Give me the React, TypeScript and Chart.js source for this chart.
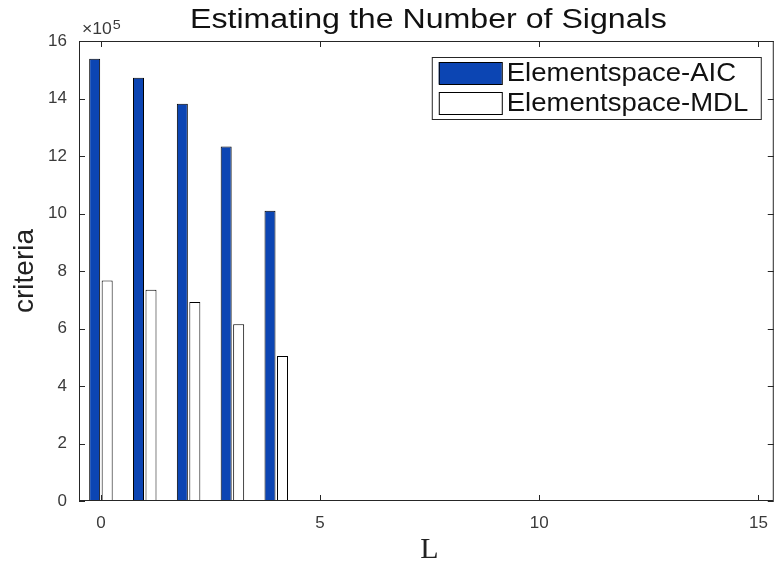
import React, { useEffect, useRef } from "react";
import { Chart, registerables } from "chart.js";

Chart.register(...registerables);

// Number of candidate signals L
const categories = [0, 1, 2, 3, 4];
// Criterion values per L
const aicValues = [1538000, 1472000, 1382000, 1233000, 1010000];
const mdlValues = [767000, 735000, 692000, 615000, 504000];
// Axis ticks
const xTickValues = [0, 5, 10, 15];
const yTickValues = [0, 200000, 400000, 600000, 800000, 1000000, 1200000, 1400000, 1600000];

const seriesNames = ["Elementspace-AIC", "Elementspace-MDL"];
const titleText = "Estimating the Number of Signals";
const yLabelText = "criteria";
const xLabelText = "L";

const AXIS_COLOR = "#262626";
const TEXT_COLOR = "#3a3a3a";
const SANS = "'Liberation Sans', Arial, sans-serif";
const SERIF = "'Liberation Serif', 'Times New Roman', serif";

function drawStretched(
  ctx: CanvasRenderingContext2D,
  text: string,
  x: number,
  y: number,
  sx: number,
  align: CanvasTextAlign
) {
  ctx.save();
  ctx.translate(x, y);
  ctx.scale(sx, 1);
  ctx.textAlign = align;
  ctx.fillText(text, 0, 0);
  ctx.restore();
}

// Box around the axes with inward ticks on all four sides, plus title, labels and legend
const decorPlugin = {
  id: "matlabDecor",
  afterDatasetsDraw(chart: any) {
    const ctx: CanvasRenderingContext2D = chart.ctx;
    const { left, right, top, bottom } = chart.chartArea;
    const xs = chart.scales.x;
    const ys = chart.scales.y;
    const tl = 6;

    ctx.save();
    ctx.strokeStyle = AXIS_COLOR;
    ctx.lineWidth = 1;
    ctx.strokeRect(left + 0.5, top + 0.5, right - left - 1, bottom - top - 1);

    ctx.beginPath();
    xTickValues.forEach((v) => {
      const px = Math.round(xs.getPixelForValue(v)) + 0.5;
      ctx.moveTo(px, bottom);
      ctx.lineTo(px, bottom - tl);
      ctx.moveTo(px, top);
      ctx.lineTo(px, top + tl);
    });
    yTickValues.forEach((v) => {
      const py = Math.round(ys.getPixelForValue(v)) + 0.5;
      ctx.moveTo(left, py);
      ctx.lineTo(left + tl, py);
      ctx.moveTo(right, py);
      ctx.lineTo(right - tl, py);
    });
    ctx.stroke();

    // exponent label
    ctx.fillStyle = TEXT_COLOR;
    ctx.textBaseline = "alphabetic";
    ctx.font = `16px ${SANS}`;
    ctx.textAlign = "left";
    drawStretched(ctx, "\u00d710", left + 3, top - 7, 1.1, "left");
    const w = ctx.measureText("\u00d710").width * 1.1;
    ctx.font = `13px ${SANS}`;
    drawStretched(ctx, "5", left + 3 + w + 1, top - 12, 1.1, "left");

    // title
    ctx.fillStyle = "#111";
    ctx.font = `27px ${SANS}`;
    drawStretched(ctx, titleText, (left + right) / 2 + 2, 28, 1.19, "center");

    // y label
    ctx.save();
    ctx.translate(33, (top + bottom) / 2);
    ctx.rotate(-Math.PI / 2);
    ctx.font = `28px ${SANS}`;
    ctx.fillStyle = "#222";
    ctx.textAlign = "center";
    ctx.fillText(yLabelText, 0, 0);
    ctx.restore();

    // x label
    ctx.font = `30px ${SERIF}`;
    ctx.fillStyle = "#222";
    ctx.textAlign = "center";
    ctx.fillText(xLabelText, (left + right) / 2 + 3, 558);

    // legend
    const lx0 = right - 342;
    const lx1 = right - 13;
    const ly0 = top + 16;
    const ly1 = top + 78;
    ctx.fillStyle = "#fff";
    ctx.fillRect(lx0, ly0, lx1 - lx0, ly1 - ly0);
    ctx.strokeStyle = AXIS_COLOR;
    ctx.strokeRect(lx0 + 0.5, ly0 + 0.5, lx1 - lx0, ly1 - ly0);
    chart.data.datasets.forEach((ds: any, i: number) => {
      const cy = ly0 + 16 + i * 30;
      ctx.fillStyle = ds.backgroundColor;
      ctx.fillRect(lx0 + 7, cy - 11, 63, 22);
      ctx.strokeStyle = "#000";
      ctx.strokeRect(lx0 + 7.5, cy - 10.5, 63, 22);
      ctx.fillStyle = "#111";
      ctx.font = `25px ${SANS}`;
      ctx.textBaseline = "middle";
      drawStretched(ctx, ds.label, lx0 + 75, cy + 1, 1.1, "left");
    });
    ctx.restore();
  },
};

export default function App() {
  const canvasRef = useRef<HTMLCanvasElement | null>(null);

  useEffect(() => {
    if (!canvasRef.current) return;
    const chart = new Chart(canvasRef.current, {
      type: "bar",
      data: {
        datasets: [
          {
            label: seriesNames[0],
            data: categories.map((c, i) => ({ x: c, y: aicValues[i] })),
            backgroundColor: "#0c45b3",
            borderColor: "#000",
            borderWidth: 1,
          },
          {
            label: seriesNames[1],
            data: categories.map((c, i) => ({ x: c, y: mdlValues[i] })),
            backgroundColor: "#ffffff",
            borderColor: "#000",
            borderWidth: 1,
          },
        ],
      },
      options: {
        animation: false,
        responsive: false,
        maintainAspectRatio: false,
        layout: { padding: { top: 41, right: 5, left: 0, bottom: 0 } },
        datasets: { bar: { categoryPercentage: 0.57, barPercentage: 0.88 } },
        plugins: {
          legend: { display: false },
          title: { display: false },
          tooltip: { enabled: false },
        },
        scales: {
          x: {
            type: "linear",
            min: -0.5,
            max: 15.35,
            offset: false,
            grid: { display: false, drawTicks: false },
            border: { display: false },
            afterBuildTicks: (scale: any) => {
              scale.ticks = xTickValues.map((v) => ({ value: v }));
            },
            afterFit: (scale: any) => {
              scale.height = 63;
            },
            ticks: {
              color: TEXT_COLOR,
              font: { family: SANS, size: 17 },
              padding: 12,
              maxRotation: 0,
              autoSkip: false,
            },
          },
          y: {
            type: "linear",
            min: 0,
            max: 1600000,
            grid: { display: false, drawTicks: false },
            border: { display: false },
            afterBuildTicks: (scale: any) => {
              scale.ticks = yTickValues.map((v) => ({ value: v }));
            },
            afterFit: (scale: any) => {
              scale.width = 79;
            },
            ticks: {
              color: TEXT_COLOR,
              font: { family: SANS, size: 17 },
              padding: 12,
              callback: (v: any) => String(Number(v) / 100000),
            },
          },
        },
      },
      plugins: [decorPlugin],
    } as any);
    return () => chart.destroy();
  }, []);

  return (
    <div style={{ position: "fixed", left: 0, top: 0, width: 780, height: 564, background: "#fff" }}>
      <canvas ref={canvasRef} width={780} height={564} />
    </div>
  );
}
